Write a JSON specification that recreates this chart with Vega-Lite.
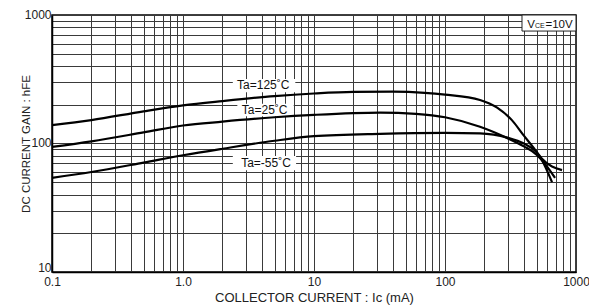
{
  "$schema": "https://vega.github.io/schema/vega-lite/v6.json",
  "width": 524,
  "height": 257,
  "autosize": "none",
  "padding": {"left": 52, "top": 15, "right": 13, "bottom": 34},
  "background": "white",
  "config": {
    "view": {"stroke": "black", "strokeWidth": 1.5},
    "font": "Liberation Sans",
    "axis": {"titleFont": "Liberation Sans", "titleFontWeight": "normal", "titleColor": "#222",
      "labelFont": "Liberation Sans", "labelFontSize": 12, "labelColor": "#222",
      "ticks": false, "grid": true, "gridColor": "#3a3a3a", "gridWidth": 1,
      "domainColor": "black", "domainWidth": 1.5, "labelOverlap": false, "labelFlush": false}
  },
  "datasets": {
    "curves": [
      {"ta": "125", "ic": 0.1, "hfe": 139}, {"ta": "125", "ic": 0.2, "hfe": 152}, {"ta": "125", "ic": 0.5, "hfe": 178},
      {"ta": "125", "ic": 1, "hfe": 198}, {"ta": "125", "ic": 2, "hfe": 214}, {"ta": "125", "ic": 5, "hfe": 234},
      {"ta": "125", "ic": 10, "hfe": 245}, {"ta": "125", "ic": 20, "hfe": 252}, {"ta": "125", "ic": 40, "hfe": 253},
      {"ta": "125", "ic": 70, "hfe": 248}, {"ta": "125", "ic": 100, "hfe": 240}, {"ta": "125", "ic": 185, "hfe": 218},
      {"ta": "125", "ic": 250, "hfe": 190}, {"ta": "125", "ic": 324, "hfe": 152}, {"ta": "125", "ic": 400, "hfe": 115},
      {"ta": "125", "ic": 500, "hfe": 86}, {"ta": "125", "ic": 550, "hfe": 74}, {"ta": "125", "ic": 656, "hfe": 50},
      {"ta": "25", "ic": 0.1, "hfe": 94}, {"ta": "25", "ic": 0.2, "hfe": 104}, {"ta": "25", "ic": 0.5, "hfe": 122},
      {"ta": "25", "ic": 1, "hfe": 138}, {"ta": "25", "ic": 2, "hfe": 148}, {"ta": "25", "ic": 5, "hfe": 160},
      {"ta": "25", "ic": 10, "hfe": 167}, {"ta": "25", "ic": 32, "hfe": 174}, {"ta": "25", "ic": 60, "hfe": 170},
      {"ta": "25", "ic": 100, "hfe": 160}, {"ta": "25", "ic": 185, "hfe": 135}, {"ta": "25", "ic": 300, "hfe": 110},
      {"ta": "25", "ic": 400, "hfe": 95}, {"ta": "25", "ic": 500, "hfe": 82}, {"ta": "25", "ic": 550, "hfe": 74},
      {"ta": "25", "ic": 692, "hfe": 54},
      {"ta": "-55", "ic": 0.1, "hfe": 54}, {"ta": "-55", "ic": 0.2, "hfe": 60}, {"ta": "-55", "ic": 0.5, "hfe": 71},
      {"ta": "-55", "ic": 1, "hfe": 81}, {"ta": "-55", "ic": 2, "hfe": 91}, {"ta": "-55", "ic": 5, "hfe": 105},
      {"ta": "-55", "ic": 10, "hfe": 114}, {"ta": "-55", "ic": 32, "hfe": 119}, {"ta": "-55", "ic": 100, "hfe": 121},
      {"ta": "-55", "ic": 185, "hfe": 120}, {"ta": "-55", "ic": 300, "hfe": 111}, {"ta": "-55", "ic": 400, "hfe": 100},
      {"ta": "-55", "ic": 500, "hfe": 86}, {"ta": "-55", "ic": 550, "hfe": 76}, {"ta": "-55", "ic": 782, "hfe": 62}
    ],
    "labels": [
      {"text": "Ta=125˚C", "ic": 4.1, "hfe": 285, "x1": 2.4, "x2": 7.2, "y1": 251, "y2": 317},
      {"text": "Ta=25˚C", "ic": 4.2, "hfe": 182, "x1": 2.6, "x2": 7.0, "y1": 163, "y2": 204},
      {"text": "Ta=-55˚C", "ic": 4.3, "hfe": 70.5, "x1": 2.4, "x2": 7.3, "y1": 62, "y2": 80}
    ],
    "vce": [
      {"part": "V", "ic": 425, "hfe": 840},
      {"part": "CE", "ic": 487, "hfe": 840},
      {"part": "=10V", "ic": 585, "hfe": 840}
    ],
    "box": [{"x1": 387, "x2": 1000, "y1": 750, "y2": 1000}]
  },
  "layer": [
    {
      "data": {"name": "labels"},
      "mark": {"type": "rect", "color": "white"},
      "encoding": {
        "x": {"field": "x1", "type": "quantitative", "title": "COLLECTOR CURRENT : Ic (mA)"},
        "x2": {"field": "x2"},
        "y": {"field": "y1", "type": "quantitative", "title": "DC CURRENT GAIN : hFE"},
        "y2": {"field": "y2"}
      }
    },
    {
      "data": {"name": "curves"},
      "mark": {"type": "line", "color": "black", "strokeWidth": 2.2, "interpolate": "monotone"},
      "encoding": {
        "x": {
          "field": "ic", "type": "quantitative", "title": "COLLECTOR CURRENT : Ic (mA)",
          "scale": {"type": "log", "domain": [0.1, 1000], "nice": false},
          "axis": {
            "titlePadding": 4, "titleFontSize": 13,
            "values": [0.1,0.2,0.3,0.4,0.5,0.6,0.7,0.8,0.9,1,2,3,4,5,6,7,8,9,10,20,30,40,50,60,70,80,90,100,200,300,400,500,600,700,800,900,1000],
            "labelExpr": "datum.value == 0.1 ? '0.1' : datum.value == 1 ? '1.0' : datum.value == 10 ? '10' : datum.value == 100 ? '100' : datum.value == 1000 ? '1000' : ''",
            "labelPadding": 4
          }
        },
        "y": {
          "field": "hfe", "type": "quantitative", "title": "DC CURRENT GAIN : hFE",
          "scale": {"type": "log", "domain": [10, 1000], "nice": false},
          "axis": {
            "titlePadding": -7, "titleFontSize": 11.5,
            "values": [10,20,30,40,50,60,70,80,90,100,200,300,400,500,600,700,800,900,1000],
            "labelExpr": "datum.value == 10 ? '10' : datum.value == 100 ? '100' : datum.value == 1000 ? '1000' : ''",
            "labelBaseline": "alphabetic",
            "labelOffset": {"condition": {"test": "datum.value == 10", "value": -1}, "value": 3},
            "labelPadding": 1
          }
        },
        "detail": {"field": "ta"}
      }
    },
    {
      "data": {"name": "labels"},
      "mark": {"type": "text", "font": "Liberation Sans", "fontSize": 12, "color": "#111", "align": "center", "baseline": "middle"},
      "encoding": {
        "x": {"field": "ic", "type": "quantitative", "title": "COLLECTOR CURRENT : Ic (mA)"},
        "y": {"field": "hfe", "type": "quantitative", "title": "DC CURRENT GAIN : hFE"},
        "text": {"field": "text"}
      }
    },
    {
      "data": {"name": "box"},
      "mark": {"type": "rect", "fill": "white", "stroke": "#222", "strokeWidth": 1},
      "encoding": {
        "x": {"field": "x1", "type": "quantitative", "title": "COLLECTOR CURRENT : Ic (mA)"},
        "x2": {"field": "x2"},
        "y": {"field": "y1", "type": "quantitative", "title": "DC CURRENT GAIN : hFE"},
        "y2": {"field": "y2"}
      }
    },
    {
      "data": {"name": "vce"},
      "transform": [{"filter": "datum.part != 'CE'"}],
      "mark": {"type": "text", "font": "Liberation Sans", "fontSize": 11.5, "color": "#111", "align": "left", "baseline": "middle"},
      "encoding": {
        "x": {"field": "ic", "type": "quantitative", "title": "COLLECTOR CURRENT : Ic (mA)"},
        "y": {"field": "hfe", "type": "quantitative", "title": "DC CURRENT GAIN : hFE"},
        "text": {"field": "part"}
      }
    },
    {
      "data": {"name": "vce"},
      "transform": [{"filter": "datum.part == 'CE'"}],
      "mark": {"type": "text", "font": "Liberation Sans", "fontSize": 7, "color": "#111", "align": "left", "baseline": "middle", "dy": 1.5},
      "encoding": {
        "x": {"field": "ic", "type": "quantitative", "title": "COLLECTOR CURRENT : Ic (mA)"},
        "y": {"field": "hfe", "type": "quantitative", "title": "DC CURRENT GAIN : hFE"},
        "text": {"field": "part"}
      }
    }
  ]
}
